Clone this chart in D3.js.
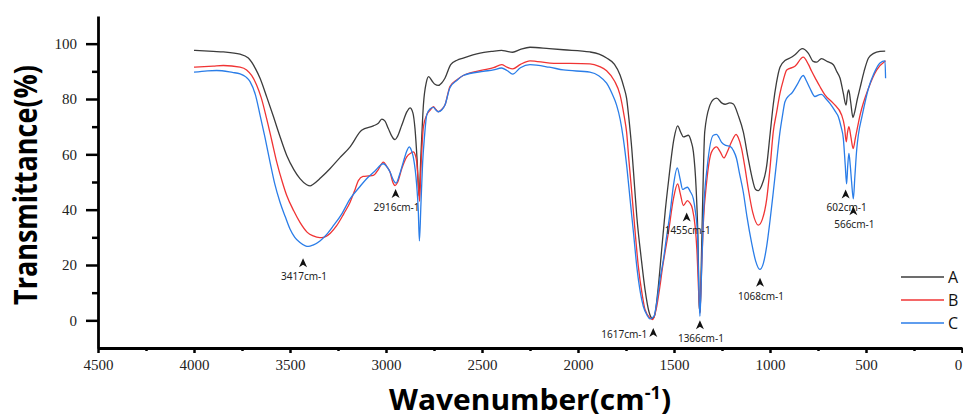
<!DOCTYPE html>
<html lang="en">
<head>
    <meta charset="UTF-8">
    <title>FTIR spectra</title>
    <style>
        html, body {
            margin: 0;
            padding: 0;
            background: #fff;
        }
        #chart-wrapper {
            width: 963px;
            height: 418px;
            overflow: hidden;
        }
    </style>
</head>
<body>
    <div id="chart-wrapper"></div>

    <script src="https://d3js.org/d3.v7.min.js"></script>
    <script>
        // spectra: [wavenumber, transmittance]
        const seriesA = [
            [4000, 97.6], [3900, 97.2], [3847, 97.0], [3760, 96.2], [3717, 94.8], [3680, 91], [3656, 87.5],
            [3620, 80.5], [3589, 74.2], [3550, 66], [3517, 59.6], [3480, 54.5], [3448, 51.2], [3413, 49.0],
            [3395, 48.6], [3379, 49.2], [3340, 51.5], [3292, 54.8], [3240, 58.8], [3187, 62.7], [3127, 68.7],
            [3066, 70.3], [3040, 71.2], [3022, 72.7], [3005, 72], [2988, 69.3], [2965, 66], [2953, 65.3],
            [2940, 66.5], [2918, 70.5], [2890, 75.5], [2875, 76.8], [2860, 75], [2849, 69.3], [2838, 58],
            [2828, 45], [2818, 60], [2805, 78], [2790, 86], [2778, 88.1], [2760, 86.5], [2745, 85.3],
            [2728, 84.9], [2710, 85.8], [2693, 87.5], [2663, 92.4], [2630, 94], [2598, 94.8], [2510, 96.6],
            [2450, 97.2], [2398, 97.6], [2370, 97.2], [2340, 96.9], [2300, 97.9], [2250, 98.7], [2150, 98.2],
            [2076, 97.8], [1938, 97.0], [1890, 96.2], [1851, 94.8], [1810, 92.5], [1781, 88.7], [1760, 84],
            [1747, 80.3], [1735, 73], [1720, 62.1], [1705, 48], [1694, 37.8], [1670, 22], [1651, 11.2],
            [1630, 3], [1612, 0.6], [1600, 2], [1585, 10], [1564, 25.7], [1545, 40], [1529, 50], [1500, 65.7],
            [1481, 70.3], [1465, 68], [1451, 66.3], [1425, 66.9], [1410, 64.5], [1399, 60.9], [1385, 48],
            [1376, 31.9], [1368, 5], [1364, 3], [1358, 20], [1350, 45], [1340, 68.1], [1313, 77.8],
            [1295, 79.8], [1278, 80.3], [1250, 78.5], [1234, 78.1], [1210, 78.6], [1191, 78.2], [1165, 74],
            [1139, 68.1], [1115, 59], [1096, 52.4], [1075, 47.3], [1061, 46.9], [1045, 48.5], [1017, 56],
            [1000, 67], [983, 78], [966, 86], [948, 91.5], [920, 94], [896, 94.8], [870, 96], [832, 98.2],
            [800, 96.5], [775, 93.6], [757, 93.3], [732, 94.6], [700, 93.5], [670, 92.4], [653, 90],
            [635, 87.5], [618, 82], [604, 77.8], [596, 82], [590, 83.3], [580, 79], [568, 73.3], [560, 75],
            [545, 80], [531, 84], [510, 90], [487, 94.8], [460, 96.5], [427, 97.2], [400, 97.3]
        ]
        const seriesB = [
            [4000, 91.5], [3900, 91.9], [3847, 92.1], [3760, 91.5], [3726, 90.5], [3700, 88.5], [3674, 85.1],
            [3650, 80.5], [3622, 73], [3595, 65], [3569, 57.2], [3540, 50], [3517, 45.1], [3480, 39.5],
            [3448, 35.4], [3410, 31.8], [3379, 30.5], [3345, 29.9], [3326, 30], [3290, 31.5], [3257, 34.2],
            [3220, 38.5], [3187, 42.7], [3160, 47.5], [3144, 50.5], [3120, 52.0], [3090, 52.2], [3066, 52.4],
            [3040, 54.5], [3014, 57.2], [2995, 55.5], [2979, 53.6], [2965, 50], [2953, 48.7], [2940, 49.8],
            [2918, 54.8], [2892, 59.1], [2870, 60.5], [2858, 60.9], [2846, 59.5], [2840, 57.2], [2832, 50],
            [2825, 43], [2818, 55], [2805, 70], [2788, 74.2], [2770, 76], [2753, 77.2], [2740, 76.2],
            [2728, 75.4], [2710, 76.2], [2693, 77.8], [2667, 84.5], [2630, 87], [2598, 88.5], [2493, 90.5],
            [2440, 91.3], [2398, 92.4], [2370, 91.5], [2340, 90.9], [2300, 92.5], [2250, 93.8], [2146, 93.0],
            [1938, 92.7], [1890, 91.8], [1851, 90.2], [1810, 86.5], [1781, 81.5], [1760, 74], [1747, 68.1],
            [1735, 58], [1720, 46.3], [1700, 30], [1686, 19.6], [1665, 9], [1651, 3.9], [1625, 0.9],
            [1610, 0.3], [1590, 5], [1573, 12.4], [1560, 19], [1547, 24.5], [1529, 31.8], [1503, 43.9],
            [1481, 49.3], [1468, 46], [1451, 41.5], [1430, 43.3], [1418, 42.5], [1404, 40.3], [1390, 34],
            [1381, 25.7], [1370, 8], [1365, 2.7], [1358, 15], [1347, 35.4], [1330, 50], [1304, 60.9],
            [1278, 62.7], [1260, 61], [1240, 58.7], [1225, 60.5], [1208, 63.3], [1190, 66], [1177, 67.2],
            [1165, 66], [1148, 62.1], [1130, 55], [1113, 47.5], [1090, 39], [1061, 34.4], [1040, 36.5],
            [1017, 43.9], [1000, 55], [983, 68.1], [966, 75], [948, 82], [930, 87], [913, 90.5], [870, 91.8],
            [827, 95.1], [800, 92.5], [783, 90], [760, 87], [740, 84.5], [714, 81.5], [670, 78.4], [627, 74.2],
            [612, 70], [603, 64.5], [596, 68], [589, 70], [578, 66], [567, 62.1], [555, 66], [531, 74.2],
            [487, 83.9], [444, 90.5], [398, 93.8]
        ]
        const seriesC = [
            [4000, 89.7], [3930, 90.2], [3882, 90.3], [3800, 89.6], [3760, 89.1], [3730, 88], [3708, 86.3],
            [3680, 81.5], [3656, 74.2], [3630, 66], [3604, 57.2], [3580, 49.5], [3552, 42.7], [3525, 37.5],
            [3500, 33], [3475, 30], [3448, 28.1], [3420, 26.9], [3405, 26.7], [3380, 27.2], [3344, 28.7],
            [3310, 31], [3274, 34.2], [3230, 38.5], [3187, 43.9], [3140, 48], [3101, 51.2], [3060, 53.8],
            [3014, 56.6], [2995, 55.5], [2979, 53.6], [2960, 50.5], [2948, 49.6], [2930, 52.5], [2910, 57.2],
            [2890, 61.5], [2879, 62.7], [2868, 61.5], [2858, 59.1], [2840, 48.7], [2832, 40], [2826, 28.7],
            [2818, 42], [2809, 57.2], [2800, 66], [2788, 74.2], [2770, 76.5], [2753, 77], [2740, 76],
            [2728, 75.4], [2710, 76], [2693, 77.8], [2667, 84.1], [2630, 86.8], [2598, 88.5], [2493, 90],
            [2440, 90.5], [2398, 91.2], [2370, 90.3], [2340, 89], [2300, 91.3], [2250, 92.4], [2150, 91.5],
            [2076, 90.5], [1938, 89.7], [1890, 88.3], [1851, 85.7], [1820, 81.5], [1799, 77.8], [1780, 72.5],
            [1764, 65.7], [1745, 55], [1729, 43.9], [1710, 31], [1694, 19.6], [1675, 10], [1660, 5.1],
            [1640, 1.8], [1625, 0.5], [1604, 1.5], [1590, 6.5], [1573, 14.8], [1555, 22], [1538, 30.5],
            [1520, 39], [1503, 48.7], [1483, 55.1], [1468, 51], [1455, 47.3], [1442, 47.8], [1430, 48.1],
            [1415, 46.5], [1399, 43.9], [1388, 39], [1378, 31.8], [1370, 10], [1365, 1.5], [1358, 14],
            [1347, 37.8], [1326, 56], [1295, 66.9], [1278, 67.2], [1265, 66], [1252, 64.3], [1230, 63.2],
            [1208, 62.9], [1190, 61.3], [1174, 58.4], [1160, 53.5], [1139, 46.3], [1120, 37.5], [1096, 28.1],
            [1075, 21.5], [1053, 18.4], [1035, 20.5], [1017, 26.9], [1000, 36], [983, 46.3], [966, 57],
            [948, 68.1], [935, 74], [922, 79], [900, 81.3], [887, 82.1], [860, 85], [827, 88.5], [810, 86.5],
            [792, 83.9], [766, 80.9], [745, 81.5], [732, 81.7], [710, 80.2], [688, 78.4], [660, 75.5],
            [644, 73.6], [630, 70], [618, 65.7], [608, 56], [601, 49.3], [595, 56], [589, 60.3], [582, 56],
            [575, 50], [566, 43.9], [558, 52], [548, 62], [540, 66.9], [520, 74], [487, 83.9], [460, 89],
            [427, 93], [401, 93.8], [398, 87.5]
        ]

        const seriesNames = ['A', 'B', 'C']
        const seriesColors = ['#3c3c3c', '#f03434', '#2a7de8']

        // peak labels: [wavenumber at arrow, transmittance at arrow tip, label]
        const peakMarks = [
            [3432, 22.4, '3417cm-1'],
            [2950, 47.5, '2916cm-1'],
            [1608, -2.8, '1617cm-1'],
            [1434, 39, '1455cm-1'],
            [1365, 0, '1366cm-1'],
            [1052, 15.4, '1068cm-1'],
            [606, 47.3, '602cm-1'],
            [566, 41.2, '566cm-1']
        ]

        const xTicks = [4500, 4000, 3500, 3000, 2500, 2000, 1500, 1000, 500, 0]
        const yTicks = [0, 20, 40, 60, 80, 100]

        const width = 963
        const height = 418
        const margin = { top: 16, right: 1, bottom: 70, left: 98 }

        const svg = d3.select('#chart-wrapper')
            .append('svg')
            .attr('width', width)
            .attr('height', height)

        const xScale = d3.scaleLinear()
            .domain([4500, 0])
            .range([margin.left, width - margin.right])
        const yScale = d3.scaleLinear()
            .domain([-10, 110])
            .range([height - margin.bottom, margin.top])

        drawAxis()
        drawLines()
        drawMarks()
        drawLegend()

        function drawAxis() {
            const serif = '"Liberation Serif", "Times New Roman", serif'
            const sans = '"Open Sans", "Noto Sans", sans-serif'

            // minor ticks first
            svg.append('g')
                .attr('transform', `translate(0, ${yScale(-10)})`)
                .call(d3.axisBottom(xScale).tickValues(d3.range(4250, 0, -500)).tickSize(3).tickFormat(''))
                .call(g => g.select('.domain').remove())
                .selectAll('line').attr('stroke-width', 2.5)
            svg.append('g')
                .attr('transform', `translate(${margin.left}, 0)`)
                .call(d3.axisLeft(yScale).tickValues([10, 30, 50, 70, 90]).tickSize(6).tickFormat(''))
                .call(g => g.select('.domain').remove())
                .selectAll('line').attr('stroke-width', 2.5)

            const xAxis = svg.append('g')
                .attr('transform', `translate(0, ${yScale(-10)})`)
                .call(d3.axisBottom(xScale).tickValues(xTicks).tickFormat(d3.format('d'))
                    .tickSize(5).tickPadding(6).tickSizeOuter(0))
            xAxis.select('.domain').attr('stroke-width', 2.8)
            xAxis.selectAll('line').attr('stroke-width', 2.5)
            xAxis.selectAll('text')
                .attr('font-family', serif)
                .attr('font-size', 15)
                .attr('fill', '#222')
                .attr('dx', d => d === 0 ? -4 : 0)

            const yAxis = svg.append('g')
                .attr('transform', `translate(${margin.left}, 0)`)
                .call(d3.axisLeft(yScale).tickValues(yTicks).tickSize(12).tickPadding(9).tickSizeOuter(0))
            yAxis.select('.domain').attr('stroke-width', 2.8)
            yAxis.selectAll('line').attr('stroke-width', 2.5)
            yAxis.selectAll('text')
                .attr('font-family', serif)
                .attr('font-size', 15)
                .attr('fill', '#222')

            svg.append('text')
                .attr('transform', `translate(37, ${(yScale(-10) + yScale(110)) / 2 + 3}) rotate(-90) scale(1, 1.2)`)
                .attr('text-anchor', 'middle')
                .attr('font-family', sans)
                .attr('font-weight', 700)
                .attr('font-size', 27)
                .text('Transmittance(%)')

            const xTitle = svg.append('text')
                .attr('transform', 'translate(530, 410) scale(1.07, 1)')
                .attr('text-anchor', 'middle')
                .attr('font-family', sans)
                .attr('font-weight', 700)
                .attr('font-size', 28)
            xTitle.append('tspan').text('Wavenumber(cm')
            xTitle.append('tspan').attr('font-size', 17).attr('dy', -11).text('-1')
            xTitle.append('tspan').attr('dy', 11).text(')')
        }

        function drawLines() {
            const line = d3.line()
                .curve(d3.curveMonotoneX)
                .x(d => xScale(d[0]))
                .y(d => yScale(d[1]))

            const lineWrapper = svg.append('g').attr('class', 'line-wrapper')
            ;[seriesA, seriesB, seriesC].forEach((series, i) => {
                lineWrapper.append('path')
                    .datum(series)
                    .attr('fill', 'none')
                    .attr('stroke', seriesColors[i])
                    .attr('stroke-width', 1.3)
                    .attr('d', line)
            })
        }

        function drawMarks() {
            const marks = svg.append('g').attr('class', 'peak-marks')
            peakMarks.forEach(([wn, val, label]) => {
                const x = xScale(wn)
                const y = yScale(val)
                marks.append('path')
                    .attr('d', `M${x},${y} L${x + 4},${y + 9} L${x},${y + 6.5} L${x - 4},${y + 9} Z`)
                    .attr('fill', '#111')
                const leftSide = label === '1617cm-1'
                marks.append('text')
                    .attr('x', leftSide ? x - 6 : x + 1)
                    .attr('y', leftSide ? y + 10 : y + 22)
                    .attr('text-anchor', leftSide ? 'end' : 'middle')
                    .attr('font-family', '"Noto Sans", "Open Sans", sans-serif')
                    .attr('font-size', 10)
                    .attr('fill', '#222')
                    .text(label)
            })
        }

        function drawLegend() {
            const legend = svg.append('g').attr('class', 'legend')
            seriesNames.forEach((name, i) => {
                const y = 277 + i * 23
                legend.append('line')
                    .attr('x1', 901).attr('x2', 944)
                    .attr('y1', y).attr('y2', y)
                    .attr('stroke', seriesColors[i])
                    .attr('stroke-width', 1.5)
                legend.append('text')
                    .attr('x', 948)
                    .attr('y', y + 6)
                    .attr('font-family', '"Open Sans", "Noto Sans", sans-serif')
                    .attr('font-size', 16)
                    .attr('fill', '#111')
                    .text(name)
            })
        }
    </script>
</body>
</html>
